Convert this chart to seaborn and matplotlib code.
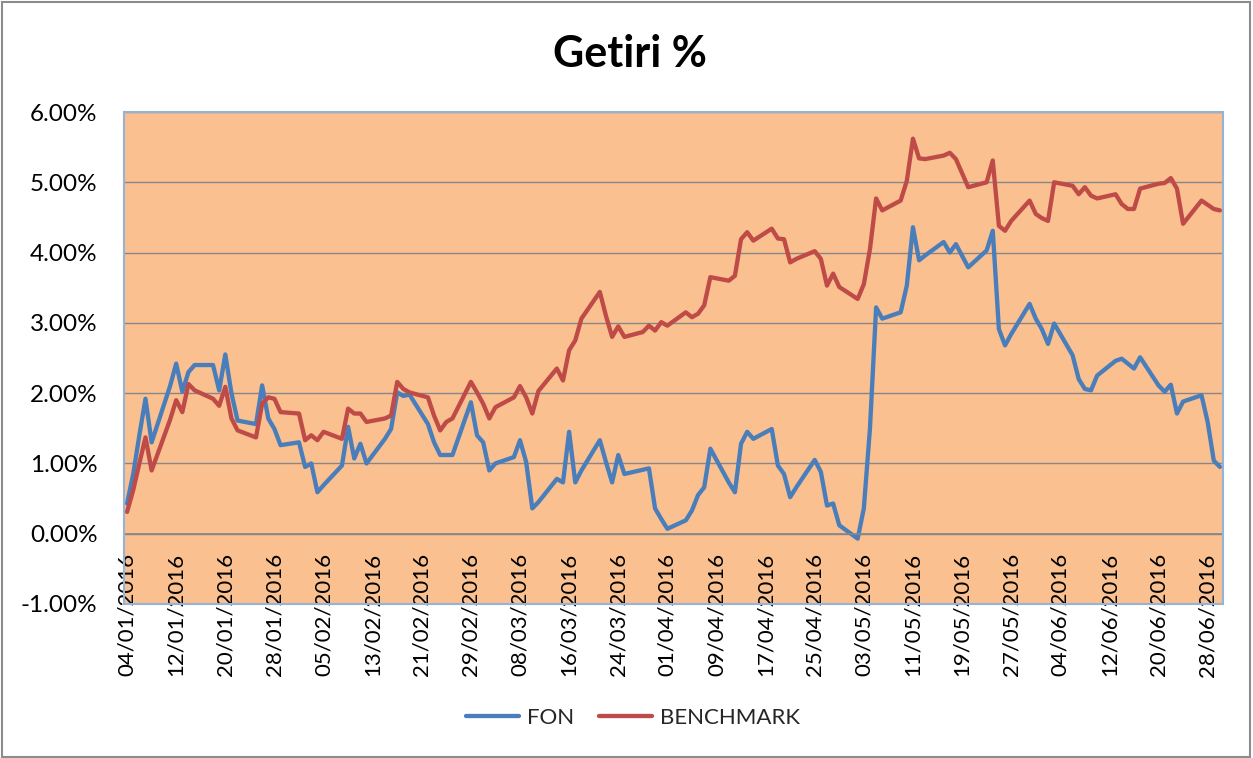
import pandas as pd
import seaborn as sns
import matplotlib.pyplot as plt
from matplotlib.patches import Rectangle
from matplotlib.ticker import FuncFormatter

# Trading days (Turkish market, 19 May closed)
holidays = ['2016-05-19']
dates = pd.bdate_range('2016-01-04', '2016-06-30', freq='C', holidays=holidays)

# Cumulative return in %
fon = [
    0.43, 0.85, 1.40, 1.92, 1.30, 2.10, 2.42, 2.02, 2.30, 2.40,
    2.40, 2.04, 2.55, 2.00, 1.61, 1.56, 2.11, 1.64, 1.49, 1.26,   # Jan
    1.30, 0.95, 1.00, 0.59, 0.69, 0.97, 1.52, 1.07, 1.28, 1.00,
    1.35, 1.49, 2.01, 1.96, 1.98, 1.56, 1.30, 1.12, 1.12, 1.12, 1.87,   # Feb
    1.40, 1.30, 0.90, 1.00, 1.09, 1.33, 1.02, 0.36, 0.45, 0.78,
    0.73, 1.45, 0.73, 0.90, 1.33, 1.02, 0.73, 1.12, 0.85, 0.91,
    0.93, 0.36, 0.21,   # Mar
    0.07, 0.19, 0.33, 0.55, 0.66, 1.21, 0.73, 0.59, 1.28, 1.45,
    1.35, 1.49, 0.97, 0.85, 0.52, 0.66, 1.05, 0.88, 0.40, 0.43, 0.12,   # Apr
    -0.07, 0.36, 1.50, 3.22, 3.06, 3.15, 3.53, 4.36, 3.89, 3.96,
    4.15, 4.00, 4.12, 3.79, 4.03, 4.31, 2.91, 2.68, 2.84, 3.27, 3.06,   # May
    2.91, 2.70, 2.99, 2.54, 2.20, 2.06, 2.04, 2.25, 2.46, 2.49,
    2.42, 2.35, 2.51, 2.11, 2.02, 2.12, 1.71, 1.88, 1.97, 1.59,
    1.04, 0.95,   # Jun
]
benchmark = [
    0.31, 0.62, 1.00, 1.37, 0.90, 1.62, 1.90, 1.73, 2.13, 2.04,
    1.92, 1.82, 2.09, 1.64, 1.47, 1.37, 1.85, 1.94, 1.92, 1.73,   # Jan
    1.71, 1.33, 1.40, 1.33, 1.45, 1.35, 1.78, 1.71, 1.71, 1.59,
    1.64, 1.68, 2.16, 2.06, 2.01, 1.94, 1.68, 1.47, 1.59, 1.64, 2.16,   # Feb
    2.01, 1.85, 1.64, 1.80, 1.94, 2.10, 1.94, 1.71, 2.03, 2.35,
    2.18, 2.61, 2.75, 3.06, 3.44, 3.10, 2.80, 2.95, 2.80, 2.87,
    2.96, 2.89, 3.01,   # Mar
    2.96, 3.15, 3.08, 3.13, 3.25, 3.65, 3.60, 3.67, 4.19, 4.29,
    4.17, 4.34, 4.20, 4.19, 3.86, 3.91, 4.02, 3.91, 3.53, 3.70, 3.51,   # Apr
    3.34, 3.55, 4.05, 4.77, 4.60, 4.74, 5.02, 5.62, 5.34, 5.33,
    5.38, 5.42, 5.33, 4.93, 5.00, 5.31, 4.38, 4.31, 4.45, 4.74, 4.55,   # May
    4.49, 4.45, 5.00, 4.95, 4.83, 4.93, 4.81, 4.77, 4.83, 4.69,
    4.62, 4.62, 4.91, 4.98, 4.99, 5.06, 4.91, 4.41, 4.74, 4.68,
    4.62, 4.60,   # Jun
]

series_names = ['FON', 'BENCHMARK']
series_colors = {'FON': '#4A7EBB', 'BENCHMARK': '#BE4B48'}
tick_dates = pd.date_range('2016-01-04', '2016-06-28', freq='8D')
y_ticks = [-1, 0, 1, 2, 3, 4, 5, 6]

df = pd.DataFrame({'Tarih': dates, 'FON': fon, 'BENCHMARK': benchmark})
df = df.melt(id_vars='Tarih', var_name='Seri', value_name='Getiri')

sns.set_theme(style='white')
plt.rcParams['font.family'] = ['Lato', 'DejaVu Sans']

W, H = 1253, 758
fig = plt.figure(figsize=(W / 100, H / 100), dpi=100)
ax = fig.add_axes([124 / W, 1 - 604 / H, 1099 / W, 492 / H])
ax.set_facecolor('#FAC090')

sns.lineplot(data=df, x='Tarih', y='Getiri', hue='Seri', hue_order=series_names,
             palette=series_colors, linewidth=3.1, ax=ax, legend=True)

# horizontal axis sits on the 0% line (set before ticks: it resets them)
ax.spines['bottom'].set_position(('data', 0))
ax.spines['bottom'].set_color('#878787')
for s in ['left', 'top', 'right']:
    ax.spines[s].set_visible(False)

# y axis in percent
ax.set_ylim(-1, 6)
ax.set_yticks(y_ticks)
ax.yaxis.set_major_formatter(FuncFormatter(lambda v, _: f'{v:.2f}%'))
ax.grid(axis='y', color='#878787', linewidth=1)
ax.grid(axis='x', visible=False)

# date axis, labels hang below the 0% line
ax.set_xlim(pd.Timestamp('2016-01-03 12:00'), pd.Timestamp('2016-06-30 12:00'))
ax.set_xticks(tick_dates)
ax.set_xticklabels([d.strftime('%d/%m/%Y') for d in tick_dates])
ax.set_xlabel('')
ax.set_ylabel('')
ax.tick_params(axis='x', length=0, pad=14, labelsize=16, labelcolor='black',
               labelrotation=90)
ax.tick_params(axis='y', length=0, pad=19, labelsize=17.5, labelcolor='black')

# plot area border
ax.add_patch(Rectangle((0, 0), 1, 1, transform=ax.transAxes, fill=False,
                       edgecolor='#95B3D7', linewidth=1.5, clip_on=False, zorder=5))

# legend at the bottom
handles, labels = ax.get_legend_handles_labels()
ax.get_legend().remove()
fig.legend(handles, labels, loc='center', bbox_to_anchor=(0.505, 1 - 718 / H), ncol=2,
           frameon=False, fontsize=16, handlelength=2.4, handletextpad=0.35,
           columnspacing=1.1)

fig.text(0.503, 1 - 54 / H, 'Getiri %', ha='center', va='center',
         fontsize=31, fontweight='bold', color='black')

# chart border
fig.add_artist(Rectangle((2 / W, 1 / H), 1 - 5 / W, 1 - 3 / H, transform=fig.transFigure,
                         fill=False, edgecolor='#8C8C8C', linewidth=1.5))

fig.savefig('out.png', dpi=100, facecolor='white')
